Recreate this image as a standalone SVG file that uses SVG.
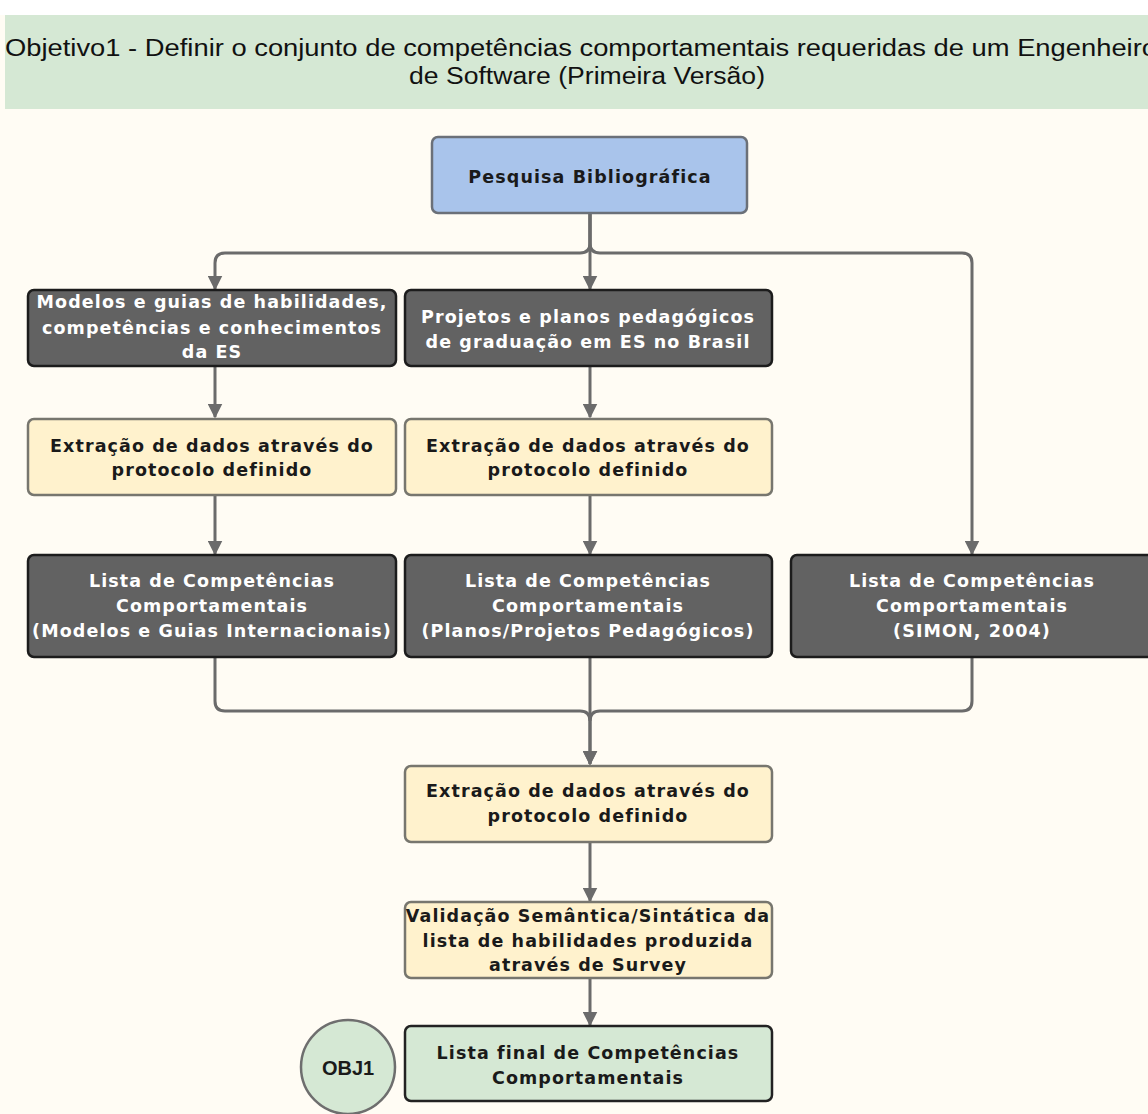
<svg xmlns="http://www.w3.org/2000/svg" width="1148" height="1114" viewBox="0 0 1148 1114">
<defs>
<style>
.dark rect{fill:#626262;stroke:#1c1c1c;stroke-width:2.5}
.yel rect{fill:#FFF2CD;stroke:#77766E;stroke-width:2.5}
.blue rect{fill:#A9C4EB;stroke:#6B7078;stroke-width:2.5}
.fin rect{fill:#D5E8D4;stroke:#222;stroke-width:2.5}
.t{font-family:"DejaVu Sans",Verdana,sans-serif;font-weight:bold;font-size:17.5px;letter-spacing:1.1px;text-anchor:middle}
.dark text{fill:#FFFFFF}
.yel text,.blue text,.fin text{fill:#1a1a1a}
.conn path{fill:none;stroke:#6B6B6B;stroke-width:3}
.ttl{font-family:'Liberation Sans Narrow','Liberation Sans',Arial,sans-serif;font-size:23px;fill:#111}
</style>
<marker id="ah" viewBox="0 0 10 10" refX="9" refY="5" markerWidth="5" markerHeight="5" markerUnits="strokeWidth" orient="auto">
<path d="M0,0 L10,5 L0,10 z" fill="#6B6B6B"/>
</marker>
</defs>
<rect x="0" y="0" width="1148" height="1114" fill="#FFFCF4"/>
<rect x="0" y="0" width="1148" height="15" fill="#FFFFFF"/>
<g id="title">
<rect x="5" y="15" width="1143" height="94" fill="#D5E8D4"/>
<text class="ttl" x="5" y="56" textLength="1152" lengthAdjust="spacingAndGlyphs">Objetivo1 - Definir o conjunto de competências comportamentais requeridas de um Engenheiro</text>
<text class="ttl" x="409" y="84" textLength="356" lengthAdjust="spacingAndGlyphs">de Software (Primeira Versão)</text>
</g>
<g class="conn" id="connectors">
<path d="M590,213 V243 Q590,253 580,253 H225 Q215,253 215,263 V289" marker-end="url(#ah)"/>
<path d="M590,213 V243 Q590,253 600,253 H962 Q972,253 972,263 V554" marker-end="url(#ah)"/>
<path d="M590,213 V289" marker-end="url(#ah)"/>
<path d="M215,366 V417" marker-end="url(#ah)"/>
<path d="M590,366 V417" marker-end="url(#ah)"/>
<path d="M215,495 V554" marker-end="url(#ah)"/>
<path d="M590,495 V554" marker-end="url(#ah)"/>
<path d="M215,657 V701 Q215,711 225,711 H580 Q590,711 590,721 V764" marker-end="url(#ah)"/>
<path d="M972,657 V701 Q972,711 962,711 H600 Q590,711 590,721"/>
<path d="M590,657 V764" marker-end="url(#ah)"/>
<path d="M590,842 V901" marker-end="url(#ah)"/>
<path d="M590,978 V1025" marker-end="url(#ah)"/>
</g>
<g id="pesquisa" class="blue">
<rect x="432" y="137" width="315" height="76" rx="6"/>
<text class="t" x="590" y="183">Pesquisa Bibliográfica</text>
</g>
<g id="modelos" class="dark">
<rect x="28" y="290" width="368" height="76" rx="6"/>
<text class="t" x="212" y="308">Modelos e guias de habilidades,</text>
<text class="t" x="212" y="334">competências e conhecimentos</text>
<text class="t" x="212" y="358">da ES</text>
</g>
<g id="projetos" class="dark">
<rect x="405" y="290" width="367" height="76" rx="6"/>
<text class="t" x="588" y="323">Projetos e planos pedagógicos</text>
<text class="t" x="588" y="348">de graduação em ES no Brasil</text>
</g>
<g id="extracao1" class="yel">
<rect x="28" y="419" width="368" height="76" rx="6"/>
<text class="t" x="212" y="452">Extração de dados através do</text>
<text class="t" x="212" y="476">protocolo definido</text>
</g>
<g id="extracao2" class="yel">
<rect x="405" y="419" width="367" height="76" rx="6"/>
<text class="t" x="588" y="452">Extração de dados através do</text>
<text class="t" x="588" y="476">protocolo definido</text>
</g>
<g id="lista1" class="dark">
<rect x="28" y="555" width="368" height="102" rx="6"/>
<text class="t" x="212" y="587">Lista de Competências</text>
<text class="t" x="212" y="612">Comportamentais</text>
<text class="t" x="212" y="637">(Modelos e Guias Internacionais)</text>
</g>
<g id="lista2" class="dark">
<rect x="405" y="555" width="367" height="102" rx="6"/>
<text class="t" x="588" y="587">Lista de Competências</text>
<text class="t" x="588" y="612">Comportamentais</text>
<text class="t" x="588" y="637">(Planos/Projetos Pedagógicos)</text>
</g>
<g id="lista3" class="dark">
<rect x="791" y="555" width="370" height="102" rx="6"/>
<text class="t" x="972" y="587">Lista de Competências</text>
<text class="t" x="972" y="612">Comportamentais</text>
<text class="t" x="972" y="637">(SIMON, 2004)</text>
</g>
<g id="extracao3" class="yel">
<rect x="405" y="766" width="367" height="76" rx="6"/>
<text class="t" x="588" y="797">Extração de dados através do</text>
<text class="t" x="588" y="822">protocolo definido</text>
</g>
<g id="validacao" class="yel">
<rect x="405" y="902" width="367" height="76" rx="6"/>
<text class="t" x="588" y="922">Validação Semântica/Sintática da</text>
<text class="t" x="588" y="947">lista de habilidades produzida</text>
<text class="t" x="588" y="971">através de Survey</text>
</g>
<g id="final" class="fin">
<rect x="405" y="1026" width="367" height="75" rx="6"/>
<text class="t" x="588" y="1059">Lista final de Competências</text>
<text class="t" x="588" y="1084">Comportamentais</text>
</g>
<g id="obj1">
<circle cx="348" cy="1067" r="47" fill="#D5E8D4" stroke="#6E6E6E" stroke-width="2.5"/>
<text x="348" y="1075" font-family="'Liberation Sans',Arial,sans-serif" font-weight="bold" font-size="20" text-anchor="middle" fill="#1a1a1a">OBJ1</text>
</g>
</svg>
